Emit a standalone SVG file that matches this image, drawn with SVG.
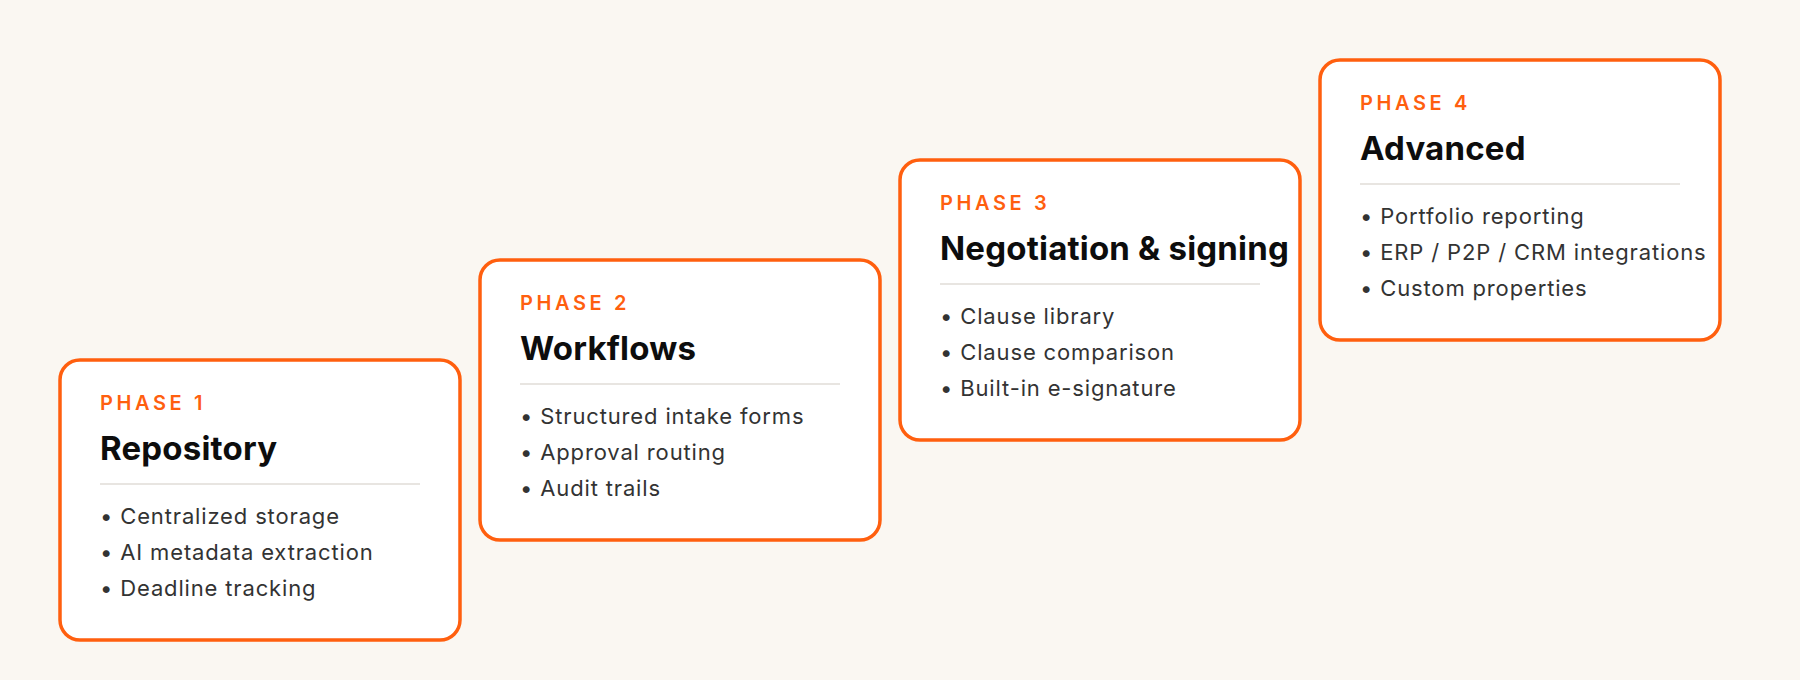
<svg xmlns="http://www.w3.org/2000/svg" width="1800" height="680" viewBox="0 0 1800 680">
<style>
.card{fill:#ffffff;stroke:#ff5f0f;stroke-width:3.5}
.phase{font-family:Inter,"Noto Sans",sans-serif;font-size:20px;font-weight:600;fill:#ff5f0f;letter-spacing:3.6px}
.title{font-family:Inter,"Noto Sans",sans-serif;font-size:33px;font-weight:700;fill:#0d0d0d;letter-spacing:0.2px}
.item{font-family:Inter,"Noto Sans",sans-serif;font-size:22px;font-weight:400;fill:#333333;letter-spacing:0.85px}
.div{stroke:#e8e5e1;stroke-width:2}
</style>
<rect width="1800" height="680" fill="#faf7f2"/>
<g id="connectors"></g>
<g id="phase1" transform="translate(60,360)">
<rect class="card" x="0" y="0" width="400" height="280" rx="20"/>
<text class="phase" x="40" y="50">PHASE 1</text>
<text class="title" x="40" y="100">Repository</text>
<line class="div" x1="40" y1="124" x2="360" y2="124"/>
<text class="item" x="40" y="164">• Centralized storage</text>
<text class="item" x="40" y="200">• AI metadata extraction</text>
<text class="item" x="40" y="236">• Deadline tracking</text>
</g>
<g id="phase2" transform="translate(480,260)">
<rect class="card" x="0" y="0" width="400" height="280" rx="20"/>
<text class="phase" x="40" y="50">PHASE 2</text>
<text class="title" x="40" y="100">Workflows</text>
<line class="div" x1="40" y1="124" x2="360" y2="124"/>
<text class="item" x="40" y="164">• Structured intake forms</text>
<text class="item" x="40" y="200">• Approval routing</text>
<text class="item" x="40" y="236">• Audit trails</text>
</g>
<g id="phase3" transform="translate(900,160)">
<rect class="card" x="0" y="0" width="400" height="280" rx="20"/>
<text class="phase" x="40" y="50">PHASE 3</text>
<text class="title" x="40" y="100">Negotiation &amp; signing</text>
<line class="div" x1="40" y1="124" x2="360" y2="124"/>
<text class="item" x="40" y="164">• Clause library</text>
<text class="item" x="40" y="200">• Clause comparison</text>
<text class="item" x="40" y="236">• Built-in e-signature</text>
</g>
<g id="phase4" transform="translate(1320,60)">
<rect class="card" x="0" y="0" width="400" height="280" rx="20"/>
<text class="phase" x="40" y="50">PHASE 4</text>
<text class="title" x="40" y="100">Advanced</text>
<line class="div" x1="40" y1="124" x2="360" y2="124"/>
<text class="item" x="40" y="164">• Portfolio reporting</text>
<text class="item" x="40" y="200">• ERP / P2P / CRM integrations</text>
<text class="item" x="40" y="236">• Custom properties</text>
</g>
</svg>
